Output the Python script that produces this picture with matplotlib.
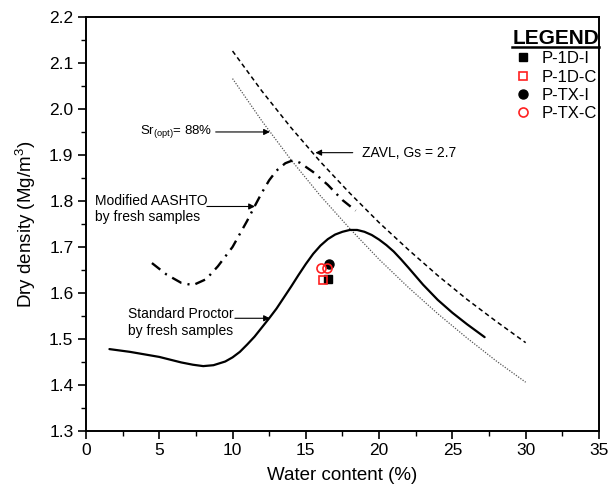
import matplotlib
matplotlib.use("Agg")
import matplotlib.pyplot as plt
from matplotlib.lines import Line2D

plt.rcParams['font.family'] = ['Liberation Sans', 'DejaVu Sans']
plt.rcParams['mathtext.fontset'] = 'custom'
plt.rcParams['mathtext.rm'] = 'Liberation Sans'
plt.rcParams['mathtext.it'] = 'Liberation Sans:italic'
plt.rcParams['mathtext.bf'] = 'Liberation Sans:bold'

# ---- data ----
std_w = [1.6, 3.0, 5.0, 6.5, 7.3, 8.0, 8.7, 9.5, 10.0, 10.5, 11.0, 11.5, 12.0, 12.5,
         13.0, 13.5, 14.0, 14.5, 15.0, 15.5, 16.0, 16.5, 17.0, 17.5, 18.0, 18.5,
         19.0, 19.5, 20.0, 20.5, 21.0, 21.5, 22.0, 23.0, 24.0, 25.0, 26.0, 27.2]
std_rho = [1.478, 1.472, 1.461, 1.449, 1.444, 1.441, 1.443, 1.451, 1.460, 1.472, 1.488,
           1.505, 1.525, 1.545, 1.566, 1.590, 1.614, 1.639, 1.663, 1.685, 1.703, 1.717,
           1.727, 1.733, 1.737, 1.737, 1.733, 1.726, 1.716, 1.704, 1.690, 1.673, 1.655,
           1.618, 1.585, 1.557, 1.532, 1.504]

mod_w = [4.5, 5.5, 6.5, 7.3, 8.2, 9.0, 10.0, 11.0, 11.5, 12.0, 12.5, 13.0, 13.6,
         14.0, 14.3, 14.6, 15.5, 16.5, 17.5, 18.4]
mod_rho = [1.665, 1.640, 1.622, 1.617, 1.630, 1.658, 1.700, 1.757, 1.788, 1.818,
           1.845, 1.866, 1.882, 1.887, 1.887, 1.883, 1.863, 1.835, 1.802, 1.779]

line_w = [10, 12, 14, 16, 18, 20, 22, 24, 26, 28, 30]
zavl_rho = [2.126, 2.039, 1.959, 1.885, 1.817, 1.753, 1.694, 1.638, 1.586, 1.538, 1.492]
sr88_rho = [2.066, 1.974, 1.889, 1.811, 1.740, 1.673, 1.612, 1.555, 1.502, 1.452, 1.406]

p1di_w, p1di_rho = [16.5], [1.630]
p1dc_w, p1dc_rho = [16.17], [1.628]
ptxi_w, ptxi_rho = [16.57], [1.663]
ptxc_w, ptxc_rho = [16.03, 16.47], [1.654, 1.654]

x_ticks = [0, 5, 10, 15, 20, 25, 30, 35]
y_ticks = [1.3, 1.4, 1.5, 1.6, 1.7, 1.8, 1.9, 2.0, 2.1, 2.2]

# ---- figure ----
fig = plt.figure(figsize=(6.15, 4.93), dpi=100)
ax = fig.add_axes([0.1398, 0.1258, 0.8341, 0.8398])

ax.plot(line_w, sr88_rho, color='#555555', lw=0.9, ls=(0, (1, 1.2)))
ax.plot(line_w, zavl_rho, color='black', lw=1.1, ls=(0, (3, 2.2)))
ax.plot(mod_w, mod_rho, color='black', lw=1.7, ls=(0, (4.5, 2.6, 0.9, 2.6)))
ax.plot(std_w, std_rho, color='black', lw=1.6, solid_capstyle='round',
        solid_joinstyle='round')

h1, = ax.plot(p1di_w, p1di_rho, ls='none', marker='s', ms=5.5, color='black', label='P-1D-I')
h3, = ax.plot(ptxi_w, ptxi_rho, ls='none', marker='o', ms=6.5, color='black', label='P-TX-I')
h2, = ax.plot(p1dc_w, p1dc_rho, ls='none', marker='s', ms=5.5, mfc='none', mec='#ff2020',
              mew=1.2, label='P-1D-C')
h4, = ax.plot(ptxc_w, ptxc_rho, ls='none', marker='o', ms=6.5, mfc='none', mec='#ff2020',
              mew=1.2, label='P-TX-C')

ax.set_xlim(0, 35)
ax.set_ylim(1.3, 2.2)
ax.set_xticks(x_ticks)
ax.set_yticks(y_ticks)
ax.set_xticks([2.5 + 5 * i for i in range(7)], minor=True)
ax.set_yticks([1.35 + 0.1 * i for i in range(9)], minor=True)
ax.set_yticklabels([f"{v:.1f}" for v in y_ticks])
ax.tick_params(which='major', direction='out', length=6, width=1.2, labelsize=12.5, pad=3,
               top=False, right=False)
ax.tick_params(which='minor', direction='out', length=3.5, width=1.0, top=False, right=False)
for s in ax.spines.values():
    s.set_linewidth(1.4)

ax.set_xlabel('Water content (%)', fontsize=13.5, labelpad=6)
ax.set_ylabel('Dry density (Mg/m$^3$)', fontsize=13.5, labelpad=8)

arrow_kw = dict(arrowstyle='-|>', color='black', lw=0.8, mutation_scale=9, shrinkA=0, shrinkB=0)

ax.text(3.68, 1.951, 'Sr$_{\\mathrm{(opt)}}$= 88%', fontsize=9.5, va='center', ha='left')
ax.annotate('', xy=(12.55, 1.950), xytext=(8.85, 1.950), arrowprops=arrow_kw)

ax.text(18.8, 1.905, 'ZAVL, Gs = 2.7', fontsize=10, va='center', ha='left')
ax.annotate('', xy=(15.65, 1.905), xytext=(18.2, 1.905), arrowprops=arrow_kw)

ax.text(0.6, 1.782, 'Modified AASHTO\nby fresh samples', fontsize=10, va='center', ha='left',
        linespacing=1.2)
ax.annotate('', xy=(11.53, 1.788), xytext=(8.25, 1.788), arrowprops=arrow_kw)

ax.text(2.86, 1.536, 'Standard Proctor\nby fresh samples', fontsize=10, va='center', ha='left',
        linespacing=1.2)
ax.annotate('', xy=(12.55, 1.545), xytext=(10.16, 1.545), arrowprops=arrow_kw)

leg = ax.legend(handles=[h1, h2, h3, h4], loc='upper right', bbox_to_anchor=(1.0, 0.971),
                frameon=False, fontsize=12, title='LEGEND',
                title_fontproperties={'weight': 'bold', 'size': 15},
                handlelength=1.0, handletextpad=0.6, labelspacing=0.2, borderpad=0,
                borderaxespad=0)

fig.canvas.draw()
renderer = fig.canvas.get_renderer()
tb = leg.get_title().get_window_extent(renderer)
W, H = fig.bbox.width, fig.bbox.height
uy = (tb.y0 + 1) / H
fig.add_artist(Line2D([tb.x0 / W, tb.x1 / W], [uy, uy], color='black', lw=1.8,
                      transform=fig.transFigure))

fig.savefig('out.png', dpi=100, facecolor='white')
